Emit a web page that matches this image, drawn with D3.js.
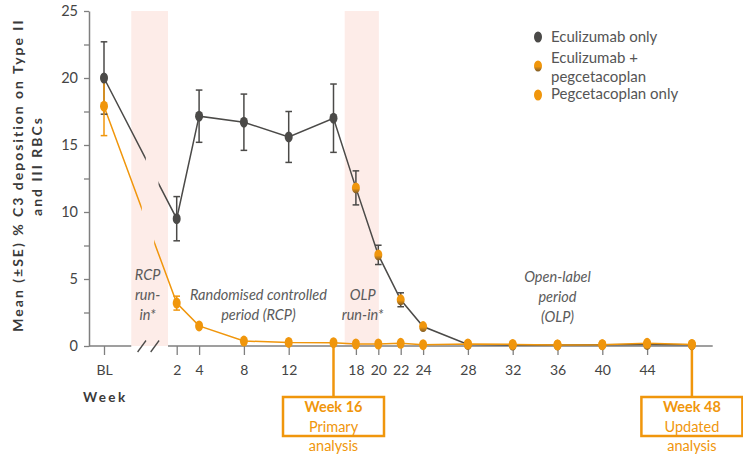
<!DOCTYPE html>
<html>
<head>
<meta charset="utf-8">
<script src="https://cdn.jsdelivr.net/npm/d3@7/dist/d3.min.js"></script>
<style>
  html, body { margin: 0; padding: 0; background: #fff; }
  svg { display: block; font-family: Lato, "Open Sans", sans-serif; }
</style>
</head>
<body>
<svg id="chart" width="743" height="454"></svg>
<script>
// Study visits (BL coded as week 0)
const weeks = [0, 2, 4, 8, 12, 16, 18, 20, 22, 24, 28, 32, 36, 40, 44, 48];

// Eculizumab arm: eculizumab only until week 16, then eculizumab + pegcetacoplan
const eculizumabMean = [20.0, 9.5, 17.15, 16.7, 15.6, 17.0, 11.8, 6.8, 3.45, 1.45, 0.12, 0.07, 0.08, 0.1, 0.12, 0.1];
const eculizumabSE   = [2.7, 1.65, 1.95, 2.1, 1.9, 2.55, 1.27, 0.72, 0.52, 0, 0, 0, 0, 0, 0, 0];
const switchWeek = 18;

// Pegcetacoplan arm
const pegcetacoplanMean = [17.9, 3.2, 1.5, 0.37, 0.27, 0.25, 0.15, 0.15, 0.2, 0.1, 0.15, 0.12, 0.08, 0.1, 0.2, 0.12];
const pegcetacoplanSE   = [2.2, 0.52, 0, 0, 0, 0, 0, 0, 0, 0, 0, 0, 0, 0, 0, 0];

// Axis ticks
const xTickWeeks = [0, 2, 4, 8, 12, 18, 20, 22, 24, 28, 32, 36, 40, 44];
const xTickLabels = ["BL", "2", "4", "8", "12", "18", "20", "22", "24", "28", "32", "36", "40", "44"];
const yTicks = [0, 2.5, 5, 7.5, 10, 12.5, 15, 17.5, 20, 22.5, 25];
const yTickLabels = ["0", "", "5", "", "10", "", "15", "", "20", "", "25"];

// Run-in periods (weeks) and period labels
const runInStart = [0.75, 17];
const runInEnd   = [1.76, 20.05];
const periodLabels = [
  { week: 1.2,  value: 4.9, lines: ["RCP", "run-", "in*"] },
  { week: 9.3,  value: 3.4, lines: ["Randomised controlled", "period (RCP)"] },
  { week: 18.6, value: 3.4, lines: ["OLP", "run-in*"] },
  { week: 36.0, value: 4.8, lines: ["Open-label", "period", "(OLP)"] }
];

// Analysis milestones
const milestoneWeeks = [16, 48];
const milestoneTitles = ["Week 16", "Week 48"];
const milestoneNotes = [["Primary", "analysis"], ["Updated", "analysis"]];

// Legend entries
const legendLabels = [["Eculizumab only"], ["Eculizumab +", "pegcetacoplan"], ["Pegcetacoplan only"]];

const DARK = "#4b4a48";
const ORANGE = "#f0960c";
const PINK = "#fdece8";
const AXIS = "#7f7f7f";
const TEXT = "#444";

const svg = d3.select("#chart");

const x = d3.scaleLinear().domain([0, 2, 48]).range([104, 176.7, 691.9]);
const y = d3.scaleLinear().domain([0, 25]).range([346, 11]);
const xAxisEnd = 712.7;

const defs = svg.append("defs");
const grad = defs.append("linearGradient").attr("id", "combo")
  .attr("x1", 0).attr("y1", 0).attr("x2", 0).attr("y2", 1);
grad.append("stop").attr("offset", "0%").attr("stop-color", ORANGE);
grad.append("stop").attr("offset", "55%").attr("stop-color", ORANGE);
grad.append("stop").attr("offset", "100%").attr("stop-color", "#7a5a2a");

// Run-in bands
svg.append("g").selectAll("rect").data(runInStart).join("rect")
  .attr("x", (d) => x(d))
  .attr("y", y(25))
  .attr("width", (d, i) => x(runInEnd[i]) - x(d))
  .attr("height", y(0) - y(25))
  .attr("fill", PINK);

// Y axis
const yAxis = d3.axisLeft(y).tickValues(yTicks)
  .tickFormat((d, i) => yTickLabels[i]).tickSize(5).tickPadding(6).tickSizeOuter(0);
const gy = svg.append("g").attr("transform", `translate(89,0)`).call(yAxis);
gy.select(".domain").attr("stroke", AXIS).attr("stroke-width", 1.5);
gy.selectAll(".tick line").attr("stroke", AXIS).attr("stroke-width", 1.3);
gy.selectAll(".tick text").attr("fill", TEXT).style("font-size", "14.5px")
  .style("font-family", "Lato, sans-serif");

// X axis (with break in the run-in band)
const xAxis = d3.axisBottom(x).tickValues(xTickWeeks)
  .tickFormat((d, i) => xTickLabels[i]).tickSize(9).tickPadding(10).tickSizeOuter(0);
const gx = svg.append("g").attr("transform", `translate(0,${y(0)})`).call(xAxis);
gx.select(".domain").remove();
gx.selectAll(".tick line").attr("stroke", AXIS).attr("stroke-width", 1.3);
gx.selectAll(".tick text").attr("fill", TEXT).style("font-size", "14px")
  .style("font-family", "Lato, sans-serif");
const axisSegments = [[89, x(runInStart[0])], [x(runInEnd[0]), xAxisEnd]];
svg.append("g").selectAll("line").data(axisSegments).join("line")
  .attr("x1", (d) => d[0]).attr("x2", (d) => d[1])
  .attr("y1", y(0)).attr("y2", y(0))
  .attr("stroke", AXIS).attr("stroke-width", 1.5);
// break marks
const breakCentres = [1.04, 1.4];
svg.append("g").selectAll("line").data(breakCentres).join("line")
  .attr("x1", (d) => x(d) - 4.2).attr("y1", y(0) + 6)
  .attr("x2", (d) => x(d) + 4.2).attr("y2", y(0) - 5.5)
  .attr("stroke", DARK).attr("stroke-width", 1.3);

// Axis titles
svg.append("text")
  .attr("transform", `translate(23,${175}) rotate(-90)`)
  .attr("text-anchor", "middle")
  .attr("fill", "#3a3a3a")
  .style("font-size", "14px").style("font-weight", "bold").style("letter-spacing", "2px")
  .text("Mean (±SE) % C3 deposition on Type II");
svg.append("text")
  .attr("transform", `translate(42,${166}) rotate(-90)`)
  .attr("text-anchor", "middle")
  .attr("fill", "#3a3a3a")
  .style("font-size", "14px").style("font-weight", "bold").style("letter-spacing", "2px")
  .text("and III RBCs");
svg.append("text")
  .attr("x", 83).attr("y", 402)
  .attr("fill", "#3a3a3a")
  .style("font-size", "13.5px").style("font-weight", "bold").style("letter-spacing", "2.4px")
  .text("Week");

// Period labels
periodLabels.forEach((p) => {
  const t = svg.append("text")
    .attr("x", x(p.week)).attr("y", y(p.value))
    .attr("text-anchor", "middle")
    .attr("fill", "#5b5b5b")
    .style("font-size", "14.5px").style("font-style", "italic");
  p.lines.forEach((ln, i) => {
    t.append("tspan").attr("x", x(p.week)).attr("dy", i === 0 ? 0 : 20).text(ln);
  });
});

// Series records
const ecu = weeks.map((w, i) => ({ w, v: eculizumabMean[i], se: eculizumabSE[i] }));
const peg = weeks.map((w, i) => ({ w, v: pegcetacoplanMean[i], se: pegcetacoplanSE[i] }));

const line = d3.line().x((d) => x(d.w)).y((d) => y(d.v));

// Lines are interrupted at the axis break
function gapClip(id, from, to) {
  const cp = defs.append("clipPath").attr("id", id);
  cp.append("rect").attr("x", 0).attr("y", 0).attr("width", x(from)).attr("height", 454);
  cp.append("rect").attr("x", x(to)).attr("y", 0).attr("width", 743 - x(to)).attr("height", 454);
}
gapClip("gap-ecu", 1.15, 1.5);
gapClip("gap-peg", 1.04, 1.38);

svg.append("path").datum(ecu).attr("d", line)
  .attr("fill", "none").attr("stroke", DARK).attr("stroke-width", 1.5)
  .attr("clip-path", "url(#gap-ecu)");
svg.append("path").datum(peg).attr("d", line)
  .attr("fill", "none").attr("stroke", ORANGE).attr("stroke-width", 1.5)
  .attr("clip-path", "url(#gap-peg)");

// Milestone connectors and boxes
const boxW = 101, boxTop = 397, boxH = 39;
milestoneWeeks.forEach((w, i) => {
  const v = pegcetacoplanMean[weeks.indexOf(w)];
  svg.append("line")
    .attr("x1", x(w)).attr("x2", x(w)).attr("y1", y(v)).attr("y2", boxTop)
    .attr("stroke", ORANGE).attr("stroke-width", 2.5);
  svg.append("rect")
    .attr("x", x(w) - boxW / 2).attr("y", boxTop).attr("width", boxW).attr("height", boxH)
    .attr("fill", "#fff").attr("stroke", ORANGE).attr("stroke-width", 2.5);
  svg.append("text").attr("x", x(w)).attr("y", 412)
    .attr("text-anchor", "middle").attr("fill", ORANGE)
    .style("font-size", "14.5px").style("font-weight", "bold")
    .text(milestoneTitles[i]);
  milestoneNotes[i].forEach((ln, j) => {
    svg.append("text").attr("x", x(w)).attr("y", 432 + j * 19)
      .attr("text-anchor", "middle").attr("fill", ORANGE)
      .style("font-size", "14.5px")
      .text(ln);
  });
});

// Error bars
function errorBars(data, colour) {
  const g = svg.append("g").attr("stroke", colour).attr("stroke-width", 1.5);
  const withSE = data.filter((d) => d.se > 0);
  g.selectAll("line.v").data(withSE).join("line").attr("class", "v")
    .attr("x1", (d) => x(d.w)).attr("x2", (d) => x(d.w))
    .attr("y1", (d) => y(d.v + d.se)).attr("y2", (d) => y(d.v - d.se));
  g.selectAll("line.t").data(withSE).join("line").attr("class", "t")
    .attr("x1", (d) => x(d.w) - 3.3).attr("x2", (d) => x(d.w) + 3.3)
    .attr("y1", (d) => y(d.v + d.se)).attr("y2", (d) => y(d.v + d.se));
  g.selectAll("line.b").data(withSE).join("line").attr("class", "b")
    .attr("x1", (d) => x(d.w) - 3.3).attr("x2", (d) => x(d.w) + 3.3)
    .attr("y1", (d) => y(d.v - d.se)).attr("y2", (d) => y(d.v - d.se));
}
errorBars(ecu, DARK);
errorBars(peg, ORANGE);

// Markers
const RX = 4, RY = 5.5;
svg.append("g").selectAll("ellipse").data(ecu).join("ellipse")
  .attr("cx", (d) => x(d.w)).attr("cy", (d) => y(d.v))
  .attr("rx", RX).attr("ry", RY)
  .attr("fill", (d) => (d.w >= switchWeek ? "url(#combo)" : DARK));
svg.append("g").selectAll("ellipse").data(peg).join("ellipse")
  .attr("cx", (d) => x(d.w)).attr("cy", (d) => y(d.v))
  .attr("rx", RX).attr("ry", RY)
  .attr("fill", ORANGE);

// Legend
const legendFills = [DARK, "url(#combo)", ORANGE];
const legendMarkerY = [37, 66, 95];
const legendTextY = [42, 63, 99];
legendLabels.forEach((lines, i) => {
  svg.append("ellipse").attr("cx", 538).attr("cy", legendMarkerY[i])
    .attr("rx", RX).attr("ry", RY).attr("fill", legendFills[i]);
  lines.forEach((ln, j) => {
    svg.append("text").attr("x", 551).attr("y", legendTextY[i] + j * 18.5)
      .attr("fill", "#555").style("font-size", "15px").text(ln);
  });
});
</script>
</body>
</html>
